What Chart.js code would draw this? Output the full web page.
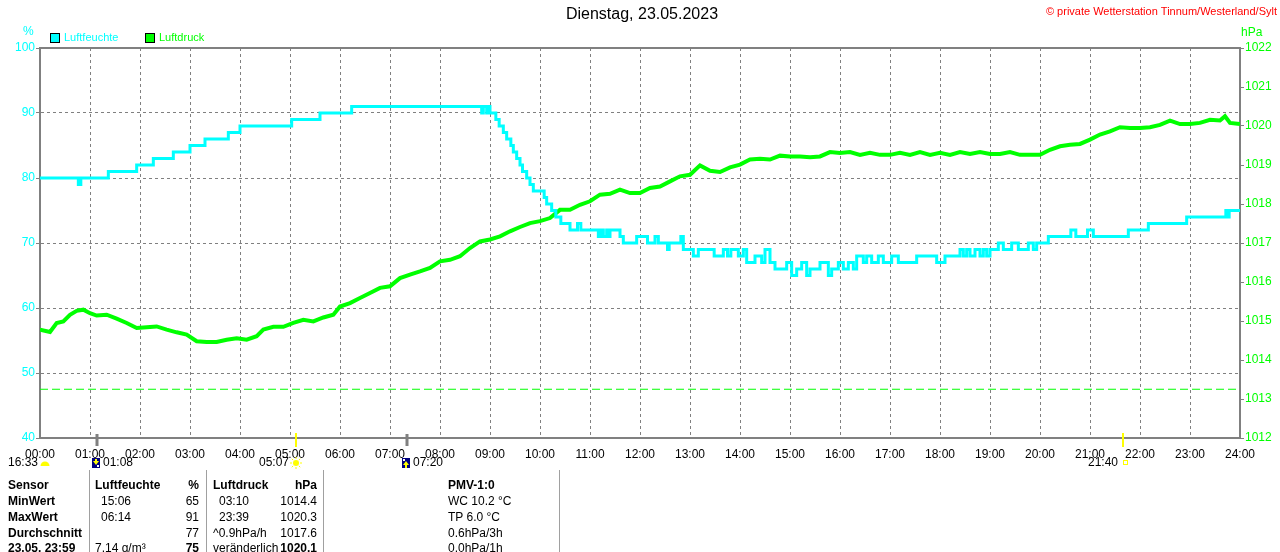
<!DOCTYPE html>
<html lang="de">
<head>
<meta charset="utf-8">
<title>Dienstag, 23.05.2023</title>
<script src="https://cdn.jsdelivr.net/npm/chart.js@4.4.0/dist/chart.umd.min.js"></script>
<style>
  body { margin: 0; background: #fff; }
  #wrap { position: relative; width: 1280px; height: 552px; overflow: hidden; }
  #chart { position: absolute; left: 0; top: 0; }
  .cell { position: absolute; font: 12px 'Liberation Sans', Arial, sans-serif; line-height: 16px; white-space: nowrap; color: #000; }
  .b { font-weight: bold; }
  .sep { position: absolute; top: 470px; width: 1px; height: 82px; background: #a0a0a0; }
</style>
</head>
<body>
<div id="wrap">
  <canvas id="chart" width="1280" height="552"></canvas>
  <div id="table"></div>
</div>
<script>
// axis labels
const hourLabels = ['00:00', '01:00', '02:00', '03:00', '04:00', '05:00', '06:00', '07:00', '08:00',
  '09:00', '10:00', '11:00', '12:00', '13:00', '14:00', '15:00', '16:00', '17:00', '18:00',
  '19:00', '20:00', '21:00', '22:00', '23:00', '24:00'];
const humTicks = [40, 50, 60, 70, 80, 90, 100];
const pressTicks = [1012, 1013, 1014, 1015, 1016, 1017, 1018, 1019, 1020, 1021, 1022];

// Luftfeuchte (%) - time of each step and the new value
const humTimes = ['00:00', '00:46', '00:49', '01:22', '01:56', '02:16', '02:40', '03:00', '03:18', '03:46',
  '04:00', '05:02', '05:36', '06:14', '08:50', '08:52', '08:56', '08:58', '09:00', '09:07',
  '09:11', '09:16', '09:20', '09:25', '09:28', '09:32', '09:36', '09:39', '09:44', '09:48',
  '09:52', '10:05', '10:08', '10:14', '10:19', '10:25', '10:36', '10:45', '10:49', '11:10',
  '11:13', '11:16', '11:20', '11:22', '11:24', '11:36', '11:40', '11:56', '12:09', '12:18',
  '12:22', '12:33', '12:35', '12:49', '12:52', '13:04', '13:10', '13:29', '13:40', '13:45',
  '13:49', '13:58', '14:04', '14:08', '14:18', '14:26', '14:30', '14:36', '14:42', '14:56',
  '15:02', '15:08', '15:14', '15:20', '15:24', '15:36', '15:46', '15:50', '15:58', '16:04',
  '16:10', '16:16', '16:20', '16:28', '16:32', '16:38', '16:46', '16:52', '17:02', '17:10',
  '17:32', '17:56', '18:06', '18:24', '18:28', '18:32', '18:36', '18:42', '18:48', '18:52',
  '18:56', '19:00', '19:10', '19:16', '19:26', '19:34', '19:46', '19:52', '19:56', '20:10',
  '20:37', '20:43', '20:57', '21:04', '21:46', '22:10', '22:56', '23:43', '23:46', '23:47',
  '24:00'];
const humValues = [80, 79, 80, 81, 82, 83, 84, 85, 86, 87,
  88, 89, 90, 91, 90, 91, 90, 91, 90, 89,
  88, 87, 86, 85, 84, 83, 82, 81, 80, 79,
  78, 77, 76, 75, 74, 73, 72, 73, 72, 71,
  72, 71, 72, 71, 72, 71, 70, 71, 70, 71,
  70, 69, 70, 71, 69, 68, 69, 68, 69, 68,
  69, 68, 69, 67, 68, 67, 69, 67, 66, 67,
  65, 66, 67, 65, 66, 67, 65, 66, 67, 66,
  67, 66, 68, 67, 68, 67, 68, 67, 68, 67,
  68, 67, 68, 69, 68, 69, 68, 69, 68, 69,
  68, 69, 70, 69, 70, 69, 70, 69, 70, 71,
  72, 71, 72, 71, 72, 73, 74, 75, 74, 75,
  75];

// Luftdruck (hPa)
const pressTimes = ['00:00', '00:12', '00:20', '00:28', '00:36', '00:44', '00:52', '01:00', '01:08', '01:20',
  '01:32', '01:44', '01:56', '02:08', '02:20', '02:32', '02:44', '02:56', '03:08', '03:20',
  '03:32', '03:44', '03:56', '04:08', '04:20', '04:28', '04:40', '04:52', '05:04', '05:16',
  '05:28', '05:40', '05:52', '06:00', '06:12', '06:24', '06:36', '06:48', '07:00', '07:12',
  '07:24', '07:36', '07:48', '08:00', '08:12', '08:24', '08:36', '08:48', '09:00', '09:12',
  '09:24', '09:36', '09:48', '10:00', '10:12', '10:24', '10:36', '10:48', '11:00', '11:12',
  '11:24', '11:36', '11:48', '12:00', '12:12', '12:24', '12:36', '12:48', '13:00', '13:12',
  '13:24', '13:36', '13:48', '14:00', '14:12', '14:24', '14:36', '14:48', '15:00', '15:12',
  '15:24', '15:36', '15:48', '16:00', '16:12', '16:24', '16:36', '16:48', '17:00', '17:12',
  '17:24', '17:36', '17:48', '18:00', '18:12', '18:24', '18:36', '18:48', '19:00', '19:12',
  '19:24', '19:36', '19:48', '20:00', '20:12', '20:24', '20:36', '20:48', '21:00', '21:12',
  '21:24', '21:36', '21:48', '22:00', '22:12', '22:24', '22:36', '22:48', '23:00', '23:12',
  '23:24', '23:36', '23:42', '23:48', '24:00'];
const pressValues = [1014.78, 1014.72, 1014.95, 1014.99, 1015.16, 1015.26, 1015.29, 1015.20, 1015.14, 1015.16,
  1015.06, 1014.95, 1014.82, 1014.84, 1014.86, 1014.78, 1014.71, 1014.65, 1014.48, 1014.46,
  1014.46, 1014.52, 1014.56, 1014.52, 1014.61, 1014.78, 1014.85, 1014.85, 1014.95, 1015.03,
  1014.99, 1015.09, 1015.16, 1015.37, 1015.46, 1015.59, 1015.72, 1015.85, 1015.89, 1016.10,
  1016.19, 1016.27, 1016.36, 1016.53, 1016.57, 1016.66, 1016.87, 1017.04, 1017.09, 1017.17,
  1017.30, 1017.41, 1017.51, 1017.56, 1017.64, 1017.85, 1017.85, 1017.98, 1018.07, 1018.24,
  1018.26, 1018.37, 1018.28, 1018.28, 1018.41, 1018.45, 1018.58, 1018.71, 1018.75, 1018.99,
  1018.85, 1018.82, 1018.94, 1019.01, 1019.14, 1019.16, 1019.14, 1019.24, 1019.22, 1019.22,
  1019.20, 1019.22, 1019.33, 1019.31, 1019.33, 1019.26, 1019.31, 1019.26, 1019.26, 1019.31,
  1019.26, 1019.33, 1019.26, 1019.31, 1019.26, 1019.33, 1019.28, 1019.33, 1019.28, 1019.28,
  1019.33, 1019.26, 1019.26, 1019.26, 1019.39, 1019.48, 1019.52, 1019.54, 1019.65, 1019.78,
  1019.86, 1019.97, 1019.95, 1019.95, 1019.97, 1020.03, 1020.14, 1020.05, 1020.05, 1020.08,
  1020.16, 1020.14, 1020.25, 1020.08, 1020.05];

// Normaldruck-Linie
const refTimes = ['00:00', '24:00'];
const refValues = [1013.25, 1013.25];

// Mond / Sonne
const astroTimes = ['16:33', '01:08', '05:07', '07:20', '21:40'];
const astroKinds = ['prev', 'moonset', 'sunrise', 'moonrise', 'sunset'];

// Tabelle unten
const colSensor = ['Sensor', 'MinWert', 'MaxWert', 'Durchschnitt', '23.05. 23:59'];
const colHumInfo = ['Luftfeuchte', '15:06', '06:14', '', '7.14 g/m³'];
const colHumVal = ['%', '65', '91', '77', '75'];
const colPressInfo = ['Luftdruck', '03:10', '23:39', '^0.9hPa/h', 'veränderlich'];
const colPressVal = ['hPa', '1014.4', '1020.3', '1017.6', '1020.1'];
const colPmv = ['PMV-1:0', 'WC 10.2 °C', 'TP 6.0 °C', '0.6hPa/3h', '0.0hPa/1h'];

const CYAN = '#00ffff';
const GREEN = '#00ff00';
const GRAY = '#808080';
const sans = "'Liberation Sans', Arial, sans-serif";

function toHours(s) {
  const p = s.split(':').map(Number);
  return p[0] + p[1] / 60;
}
function pairs(times, values) {
  return times.map((t, i) => ({ x: toHours(t), y: values[i] }));
}

// ---- table ----
const table = document.getElementById('table');
const rowY = [477, 493, 509, 525, 540];
function cell(text, x, y, bold, alignRight) {
  const d = document.createElement('div');
  d.className = 'cell' + (bold ? ' b' : '');
  d.textContent = text;
  d.style.top = y + 'px';
  if (alignRight) d.style.right = (1280 - x) + 'px';
  else d.style.left = x + 'px';
  table.appendChild(d);
}
[89, 206, 323, 559].forEach(x => {
  const s = document.createElement('div');
  s.className = 'sep';
  s.style.left = x + 'px';
  table.appendChild(s);
});
rowY.forEach((y, i) => {
  cell(colSensor[i], 8, y, true, false);
  cell(colHumInfo[i], (i === 1 || i === 2) ? 101 : 95, y, i === 0, false);
  cell(colHumVal[i], 199, y, i === 0 || i === 4, true);
  cell(colPressInfo[i], (i === 1 || i === 2) ? 219 : 213, y, i === 0, false);
  cell(colPressVal[i], 317, y, i === 0 || i === 4, true);
  cell(colPmv[i], 448, y, i === 0, false);
});

// ---- decorations ----
const framePlugin = {
  id: 'frame',
  beforeDatasetsDraw(chart) {
    const { ctx, chartArea: a } = chart;
    ctx.save();
    ctx.strokeStyle = GRAY;
    ctx.lineWidth = 2;
    ctx.beginPath();
    ctx.moveTo(a.left, a.top);
    ctx.lineTo(a.right, a.top);
    ctx.stroke();
    ctx.restore();
  }
};

function drawSun(ctx, x, y) {
  ctx.fillStyle = '#ffff00';
  ctx.strokeStyle = '#ffff00';
  ctx.lineWidth = 1;
  ctx.beginPath();
  ctx.arc(x, y, 3, 0, Math.PI * 2);
  ctx.fill();
  for (let k = 0; k < 8; k++) {
    const a = k * Math.PI / 4;
    ctx.beginPath();
    ctx.moveTo(x + Math.cos(a) * 4, y + Math.sin(a) * 4);
    ctx.lineTo(x + Math.cos(a) * 6, y + Math.sin(a) * 6);
    ctx.stroke();
  }
}
function drawMoonBox(ctx, x, y, up) {
  ctx.fillStyle = '#000080';
  ctx.fillRect(x, y - 5, 8, 10);
  ctx.fillStyle = '#ffffff';
  ctx.fillRect(up ? x + 1 : x + 5, up ? y - 4 : y + 2, 2, 2);
  ctx.fillStyle = '#ffff00';
  ctx.beginPath();
  if (up) {
    ctx.moveTo(x + 4, y - 2); ctx.lineTo(x + 7, y + 2); ctx.lineTo(x + 1, y + 2);
  } else {
    ctx.moveTo(x + 4, y + 2); ctx.lineTo(x + 7, y - 2); ctx.lineTo(x + 1, y - 2);
  }
  ctx.fill();
  ctx.fillRect(x + 3, up ? y + 1 : y - 4, 2, 4);
}

const overlayPlugin = {
  id: 'overlay',
  afterDraw(chart) {
    const { ctx, chartArea: a } = chart;
    const xs = chart.scales.x;
    ctx.save();
    ctx.textBaseline = 'middle';

    // Titel
    ctx.fillStyle = '#000';
    ctx.font = '16px ' + sans;
    ctx.textAlign = 'center';
    ctx.fillText('Dienstag, 23.05.2023', 642, 15);

    // Copyright
    ctx.fillStyle = '#ff0000';
    ctx.font = '11px ' + sans;
    ctx.textAlign = 'right';
    ctx.fillText('© private Wetterstation Tinnum/Westerland/Sylt', 1277, 12);

    // Einheiten
    ctx.font = '12px ' + sans;
    ctx.textAlign = 'left';
    ctx.fillStyle = CYAN;
    ctx.fillText('%', 23, 32);
    ctx.fillStyle = GREEN;
    ctx.fillText('hPa', 1241, 33);

    // Legende
    ctx.font = '11px ' + sans;
    const legend = [[chart.data.datasets[0].label, CYAN, 50], [chart.data.datasets[1].label, GREEN, 145]];
    legend.forEach(([label, color, x]) => {
      ctx.fillStyle = color;
      ctx.fillRect(x, 33, 10, 10);
      ctx.strokeStyle = '#000';
      ctx.lineWidth = 1;
      ctx.strokeRect(x + 0.5, 33.5, 9, 9);
      ctx.fillStyle = color;
      ctx.fillText(label, x + 14, 38);
    });

    // Sonne / Mond
    const rowY = 463;
    ctx.font = '12px ' + sans;
    astroTimes.forEach((t, i) => {
      const kind = astroKinds[i];
      if (kind === 'prev') {
        const x = a.left;
        ctx.fillStyle = '#000';
        ctx.textAlign = 'right';
        ctx.fillText(t, x - 2, rowY);
        ctx.fillStyle = '#ffff00';
        ctx.beginPath();
        ctx.arc(x + 5, rowY + 3, 4.5, Math.PI, 0);
        ctx.fill();
        return;
      }
      const x = Math.round(xs.getPixelForValue(toHours(t)));
      const isSun = kind === 'sunrise' || kind === 'sunset';
      ctx.fillStyle = isSun ? '#ffff00' : GRAY;
      ctx.fillRect(x - (isSun ? 1 : 1.5), a.bottom - (isSun ? 5 : 4), isSun ? 2 : 3, isSun ? 14 : 12);
      ctx.fillStyle = '#000';
      if (kind === 'sunrise') {
        ctx.textAlign = 'right';
        ctx.fillText(t, x - 7, rowY);
        drawSun(ctx, x, rowY);
      } else if (kind === 'sunset') {
        ctx.textAlign = 'right';
        ctx.fillText(t, x - 5, rowY);
        ctx.strokeStyle = '#ffff00';
        ctx.lineWidth = 1;
        ctx.strokeRect(x + 0.5, rowY - 2.5, 4, 4);
      } else {
        ctx.textAlign = 'left';
        ctx.fillText(t, x + 6, rowY);
        drawMoonBox(ctx, x - 5, rowY, kind === 'moonrise');
      }
    });
    ctx.restore();
  }
};

new Chart(document.getElementById('chart'), {
  type: 'line',
  data: {
    datasets: [
      {
        label: 'Luftfeuchte',
        data: pairs(humTimes, humValues),
        yAxisID: 'y',
        borderColor: CYAN,
        borderWidth: 3,
        stepped: 'before',
        pointRadius: 0
      },
      {
        label: 'Luftdruck',
        data: pairs(pressTimes, pressValues),
        yAxisID: 'y1',
        borderColor: GREEN,
        borderWidth: 4,
        tension: 0,
        pointRadius: 0
      },
      {
        label: '1013.25',
        data: pairs(refTimes, refValues),
        yAxisID: 'y1',
        borderColor: GREEN,
        borderWidth: 1,
        borderDash: [8, 4],
        pointRadius: 0
      }
    ]
  },
  options: {
    responsive: false,
    animation: false,
    devicePixelRatio: 1,
    layout: { padding: { top: 48, bottom: 94, left: 0, right: 0 } },
    plugins: { legend: { display: false }, tooltip: { enabled: false } },
    scales: {
      x: {
        type: 'linear',
        min: 0,
        max: 24,
        afterBuildTicks: s => { s.ticks = hourLabels.map((l, i) => ({ value: i })); },
        ticks: {
          callback: v => hourLabels[v],
          color: '#000',
          font: { family: sans, size: 12 },
          padding: 9,
          maxRotation: 0,
          autoSkip: false
        },
        grid: { color: GRAY, drawTicks: false },
        border: { color: GRAY, width: 2, dash: [3, 3] },
        afterFit: s => { s.height = 20; }
      },
      y: {
        position: 'left',
        min: 40,
        max: 100,
        afterBuildTicks: s => { s.ticks = humTicks.map(v => ({ value: v })); },
        ticks: { color: CYAN, font: { family: sans, size: 12 }, padding: 1, callback: v => String(v) },
        grid: { color: GRAY, tickColor: GRAY, tickLength: 4, tickBorderDash: [] },
        border: { color: GRAY, width: 2, dash: [3, 3] },
        afterFit: s => { s.width = 40; }
      },
      y1: {
        position: 'right',
        min: 1012,
        max: 1022,
        afterBuildTicks: s => { s.ticks = pressTicks.map(v => ({ value: v })); },
        ticks: { color: GREEN, font: { family: sans, size: 12 }, padding: 1, callback: v => String(v) },
        grid: { drawOnChartArea: false, tickColor: GRAY, tickLength: 4 },
        border: { color: GRAY, width: 2 },
        afterFit: s => { s.width = 40; }
      }
    }
  },
  plugins: [framePlugin, overlayPlugin]
});
</script>
</body>
</html>
